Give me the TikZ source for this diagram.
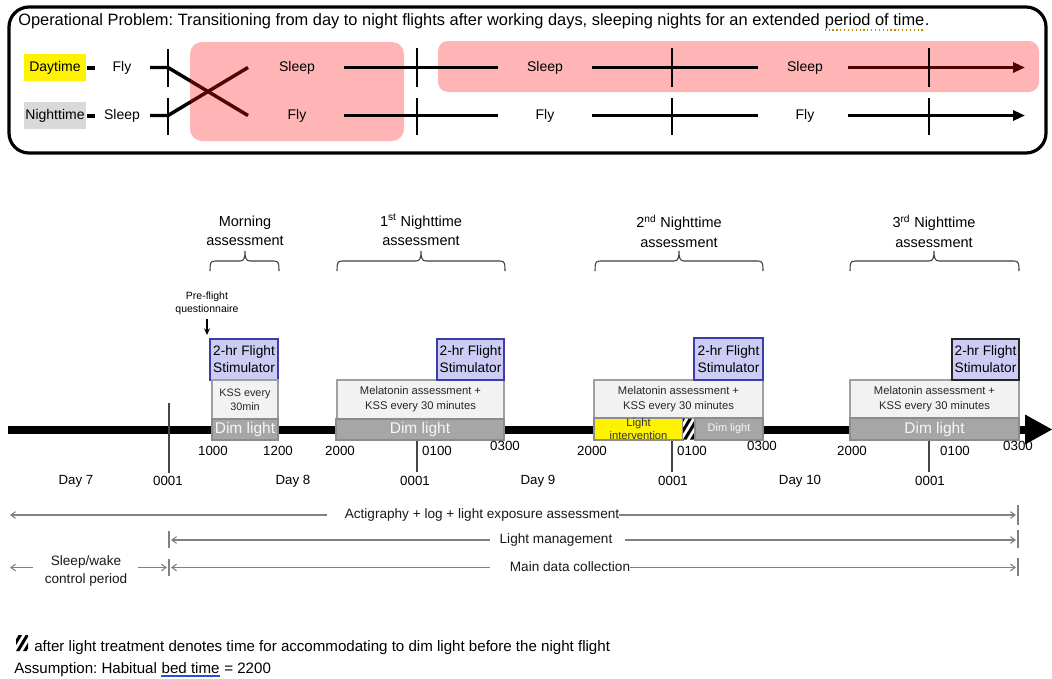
\documentclass[tikz,border=0pt]{standalone}
\usepackage{fontspec}
\setmainfont{Liberation Sans}
\usetikzlibrary{arrows.meta,calc}
\newcommand\fpx[2]{\fontsize{\fpeval{0.75*(#1)}pt}{\fpeval{0.75*(#2)}pt}\selectfont}
\definecolor{pinkbg}{RGB}{255,181,181}
\definecolor{dred}{RGB}{80,5,5}
\definecolor{nightgray}{RGB}{217,217,217}
\definecolor{dimgray}{RGB}{166,166,166}
\definecolor{dimborder}{RGB}{140,140,140}
\definecolor{kssfill}{RGB}{242,242,242}
\definecolor{kssborder}{RGB}{160,160,160}
\definecolor{flyfill}{RGB}{204,204,245}
\definecolor{flyborder}{RGB}{60,60,170}
\definecolor{arrgray}{RGB}{128,128,128}
\definecolor{tickgray}{RGB}{70,70,70}
\definecolor{wavegold}{RGB}{190,140,0}
\definecolor{ulblue}{RGB}{40,80,210}
% box macro: #1 box style, #2 text style, #3 name, #4 x1, #5 y1, #6 x2, #7 y2, #8 text
\newcommand\bx[8]{%
  \node[#1, minimum width={\fpeval{0.75*(#6-#4)}pt}, minimum height={\fpeval{0.75*(#7-#5)}pt}, inner sep=0pt, outer sep=0pt] (#3) at ({(#4+#6)/2},{(#5+#7)/2}) {};
  \node[#2, align=center, inner sep=0pt] at (#3.center) {#8};}
% brace macro: x1, xc, x2
\newcommand\brc[3]{%
  \draw[bracestyle] (#1,271) .. controls (#1,264) and (#1,261) .. ({#1+5},261) -- ({#2-5},261) .. controls ({#2-1},261) and (#2,258) .. (#2,251) .. controls (#2,258) and ({#2+1},261) .. ({#2+5},261) -- ({#3-5},261) .. controls (#3,261) and (#3,264) .. (#3,271);}
% hatch macro: x1,y1,x2,y2
\newcommand\hatch[4]{%
  \begin{scope}
    \clip (#1,#2) rectangle (#3,#4);
    \fill[white] (#1,#2) rectangle (#3,#4);
    \foreach \o in {-21,-14,...,14} {
      \fill[black] ({#1+\o},#4) -- ({#1+\o+3.5},#4) -- ({#1+\o+3.5+0.6*(#4-#2)},#2) -- ({#1+\o+0.6*(#4-#2)},#2) -- cycle;
    }
  \end{scope}}
\begin{document}
\frenchspacing
\begin{tikzpicture}[x=0.75pt,y=-0.75pt,
  rowtxt/.style={inner sep=0pt, font=\fpx{14}{17}},
  rowline/.style={line width=2.6pt},
  rowtick/.style={line width=0.8pt},
  flybox/.style={draw=flyborder, fill=flyfill, line width=0.8pt},
  flytxt/.style={font=\fpx{13.7}{17}},
  kssbox/.style={draw=kssborder, fill=kssfill, line width=0.8pt},
  ksstxt/.style={font=\fpx{11.2}{15}, text=black!85},
  dimbox/.style={draw=dimborder, fill=dimgray, line width=0.8pt},
  dimtxt/.style={font=\fpx{15.5}{17}, text=white!97!black},
  asstxt/.style={font=\fpx{14.5}{19.5}, align=center, inner sep=0pt},
  bracestyle/.style={draw=black!75, line width=0.8pt},
  tlbl/.style={font=\fpx{13.3}{16}, inner sep=0pt},
  dtick/.style={draw=tickgray, line width=1.1pt},
  garr/.style={draw=arrgray, line width=0.8pt, >={Straight Barb[length=3.5pt,width=5pt]}},
  glbl/.style={font=\fpx{13.6}{18}, inner sep=0pt, align=center, text=black!90},
  ttl/.style={font=\fpx{16.4}{19}, inner sep=0pt, anchor=base west},
  foot/.style={font=\fpx{15.1}{17}, inner sep=0pt, anchor=base west}]
\useasboundingbox (0,0) rectangle (1052,678);
\fill[white] (0,0) rectangle (1052,678);

% ================= TOP PANEL =================
\fill[pinkbg, rounded corners=9pt] (190,42) rectangle (404,141);
\fill[pinkbg, rounded corners=7.5pt] (438,41) rectangle (1039,92);
\draw[line width=2.4pt, rounded corners=15pt] (9,7) rectangle (1046,153);

\node[ttl] (t1) at (18,26) {Operational Problem: Transitioning from day to night flights after working days, sleeping nights for an extended\ \null};
\node[ttl] (t2) at (t1.base east) {period of time};
\node[ttl] (t3) at (t2.base east) {.};
\draw[wavegold, dotted, line width=0.9pt] ($(t2.base west)+(0,4)$) -- ($(t2.base east)+(0,4)$);

% row labels
\node[fill=yellow, minimum width={\fpeval{0.75*62}pt}, minimum height={\fpeval{0.75*27}pt}, inner sep=0pt, font=\fpx{14}{17}] (day) at (55,67.5) {Daytime};
\node[fill=nightgray, minimum width={\fpeval{0.75*62}pt}, minimum height={\fpeval{0.75*27}pt}, inner sep=0pt, font=\fpx{14}{17}] (night) at (55,115.5) {Nighttime};
\coordinate (dd1) at (87,67.5); \coordinate (dd2) at (95,67.5);
\coordinate (nd1) at (87,115.5); \coordinate (nd2) at (95,115.5);
\draw[line width=3pt] (dd1) -- (dd2);
\draw[line width=3pt] (nd1) -- (nd2);
\node[rowtxt] (fly0) at (122,67.5) {Fly};
\node[rowtxt] (sl0) at (122,115.5) {Sleep};

% crossing
\coordinate (c1a) at (150,67.5); \coordinate (c1b) at (168,67.5); \coordinate (c1c) at (191,81.3); \coordinate (c1d) at (248,115.5);
\coordinate (c2a) at (150,115.5); \coordinate (c2b) at (168,115.5); \coordinate (c2c) at (191,101.7); \coordinate (c2d) at (248,67.5);
\draw[rowline] (c1a) -- (c1b) -- (c1c);
\draw[rowline] (c2a) -- (c2b) -- (c2c);
\draw[rowline, dred] (c1c) -- (c1d);
\draw[rowline, dred] (c2c) -- (c2d);
\draw[rowtick] (168,49) -- (168,87);
\draw[rowtick] (168,98) -- (168,135);

\node[rowtxt] (sl1) at (297,67.5) {Sleep};
\node[rowtxt] (fl1) at (297,115.5) {Fly};
\node[rowtxt] (sl2) at (545,67.5) {Sleep};
\node[rowtxt] (fl2) at (545,115.5) {Fly};
\node[rowtxt] (sl3) at (805,67.5) {Sleep};
\node[rowtxt] (fl3) at (805,115.5) {Fly};

\coordinate (r1a) at (344,67.5); \coordinate (r1b) at (498,67.5);
\coordinate (r1c) at (592,67.5); \coordinate (r1d) at (758,67.5);
\coordinate (r1e) at (848,67.5); \coordinate (r1f) at (1025,67.5);
\coordinate (r2a) at (344,115.5); \coordinate (r2b) at (498,115.5);
\coordinate (r2c) at (592,115.5); \coordinate (r2d) at (758,115.5);
\coordinate (r2e) at (848,115.5); \coordinate (r2f) at (1025,115.5);
\draw[rowline] (r1a) -- (r1b);
\draw[rowline] (r1c) -- (r1d);
\draw[rowline, dred, -{Triangle[length=9pt,width=7.5pt]}] (r1e) -- (r1f);
\draw[rowline] (r2a) -- (r2b);
\draw[rowline] (r2c) -- (r2d);
\draw[rowline, -{Triangle[length=9pt,width=7.5pt]}] (r2e) -- (r2f);
\foreach \x in {417,672,929} {
  \draw[rowtick] (\x,48) -- (\x,87);
  \draw[rowtick] (\x,98) -- (\x,135);
}

% ================= TIMELINE =================
\coordinate (tl0) at (8,429.5); \coordinate (tl1) at (1027,429.5);
\draw[line width=6pt] (tl0) -- (tl1);
\fill (1025,414.5) -- (1052,429.5) -- (1025,444.5) -- cycle;

% assessment labels and braces
\node[asstxt] (ma) at (245,231) {Morning\\assessment};
\node[asstxt] (n1) at (421,230) {1\textsuperscript{st} Nighttime\\assessment};
\node[asstxt] (n2) at (679,231) {2\textsuperscript{nd} Nighttime\\assessment};
\node[asstxt] (n3) at (934,231) {3\textsuperscript{rd} Nighttime\\assessment};
\brc{210}{245}{279}
\brc{337}{421}{505}
\brc{595}{679}{763}
\brc{850}{934}{1019}

% pre-flight questionnaire
\node[font=\fpx{10.5}{12.5}, align=center, inner sep=0pt] (pfq) at (207,303.5) {Pre-flight\\questionnaire};
\coordinate (pfa) at (207,335);
\draw[line width=0.9pt, -{Stealth[length=5pt,width=4.5pt]}] (pfq.south) ++(0,4) -- (pfa);

% morning boxes
\bx{flybox}{flytxt}{fm}{210}{339}{278}{380}{2-hr Flight\\Stimulator}
\bx{kssbox}{ksstxt, font=\fpx{10.8}{14}}{km}{212}{380}{278}{419}{KSS every\\30min}
\bx{dimbox}{dimtxt}{dm}{212}{419}{278}{440}{Dim light}
% 1st night
\bx{kssbox}{ksstxt}{k1}{337}{380}{504}{419}{Melatonin assessment +\\KSS every 30 minutes}
\bx{dimbox}{dimtxt}{d1}{336}{419}{504}{440}{Dim light}
\bx{flybox}{flytxt}{f1}{437}{339}{504}{380}{2-hr Flight\\Stimulator}
% 2nd night
\bx{kssbox}{ksstxt}{k2}{594}{380}{763}{418}{Melatonin assessment +\\KSS every 30 minutes}
\bx{draw=dimborder, fill=yellow, line width=0.8pt}{font=\fpx{11.2}{12.5}, text=black!80}{y2}{594}{418}{683}{440}{Light\\intervention}
\hatch{683}{418.5}{695}{439.5}
\bx{dimbox}{dimtxt, font=\fpx{11}{13}}{d2}{695}{418}{763}{440}{Dim light}
\bx{flybox}{flytxt}{f2}{694}{338}{763}{380}{2-hr Flight\\Stimulator}
% 3rd night
\bx{kssbox}{ksstxt}{k3}{850}{380}{1019}{418}{Melatonin assessment +\\KSS every 30 minutes}
\bx{dimbox}{dimtxt}{d3}{850}{418}{1019}{440}{Dim light}
\bx{flybox, draw=black!85}{flytxt}{f3}{952}{339}{1019}{380}{2-hr Flight\\Stimulator}

% day ticks
\draw[dtick] (169,403) -- (169,473);
\foreach \x in {417,672,929} { \draw[dtick] (\x,440.5) -- (\x,472); }

% time labels
\node[tlbl] (h1) at (213,451) {1000};
\node[tlbl] (h2) at (278,451) {1200};
\node[tlbl] (h3) at (340,451) {2000};
\node[tlbl] (h4) at (437,451) {0100};
\node[tlbl] (h5) at (505,446) {0300};
\node[tlbl] (h6) at (592,451) {2000};
\node[tlbl] (h7) at (692,451) {0100};
\node[tlbl] (h8) at (762,446) {0300};
\node[tlbl] (h9) at (852,451) {2000};
\node[tlbl] (h10) at (955,451) {0100};
\node[tlbl] (h11) at (1018,446) {0300};
\node[tlbl] (dy7) at (76,481) {Day 7};
\node[tlbl] (z1) at (168,481) {0001};
\node[tlbl] (dy8) at (293,481) {Day 8};
\node[tlbl] (z2) at (415,481) {0001};
\node[tlbl] (dy9) at (538,481) {Day 9};
\node[tlbl] (z3) at (673,481) {0001};
\node[tlbl] (dy10) at (800,481) {Day 10};
\node[tlbl] (z4) at (930,481) {0001};

% ================= BOTTOM ARROWS =================
% actigraphy
\node[glbl] (act) at (482,514.5) {Actigraphy + log + light exposure assessment};
\coordinate (ac1) at (10,515); \coordinate (ac2) at (1016,515);
\draw[garr,<-] (ac1) -- ($(act.west)+(-18,0.5)$);
\draw[garr,->] ($(act.east)+(0,0.5)$) -- (ac2);
\draw[garr] (1018,505) -- (1018,525);
% light management
\node[glbl] (lm) at (556,539.5) {Light management};
\coordinate (lm1) at (171,540); \coordinate (lm2) at (1016,540);
\draw[garr,<-] (lm1) -- (490,540);
\draw[garr,->] (625,540) -- (lm2);
\draw[garr] (169,531) -- (169,548);
\draw[garr] (1018,530) -- (1018,548);
% main data collection
\node[glbl] (mdc) at (570,567) {Main data collection};
\coordinate (md1) at (171,567.5); \coordinate (md2) at (1016,567.5);
\draw[garr,<-] (md1) -- (490,567.5);
\draw[garr,->] ($(mdc.east)+(0,0.5)$) -- (md2);
\draw[garr] (169,559) -- (169,576);
\draw[garr] (1018,558) -- (1018,576);
% sleep/wake
\node[glbl] (sw) at (86,571) {Sleep/wake\\control period};
\coordinate (sw1) at (10,567.5); \coordinate (sw2) at (33,567.5);
\coordinate (sw3) at (138,567.5); \coordinate (sw4) at (167,567.5);
\draw[garr,<-] (sw1) -- (sw2);
\draw[garr,->] (sw3) -- (sw4);

% ================= FOOTNOTE =================
\hatch{16}{635}{28}{651}
\node[foot] (fn1) at (34,651) {after light treatment denotes time for accommodating to dim light before the night flight};
\node[foot] (fn2a) at (14,673) {Assumption: Habitual\ \null};
\node[foot] (fn2b) at (fn2a.base east) {bed time};
\node[foot] (fn2c) at (fn2b.base east) {\ \null= 2200};
\draw[ulblue, line width=0.8pt] ($(fn2b.base west)+(0,3)$) -- ($(fn2b.base east)+(0,3)$);
\end{tikzpicture}
\end{document}
